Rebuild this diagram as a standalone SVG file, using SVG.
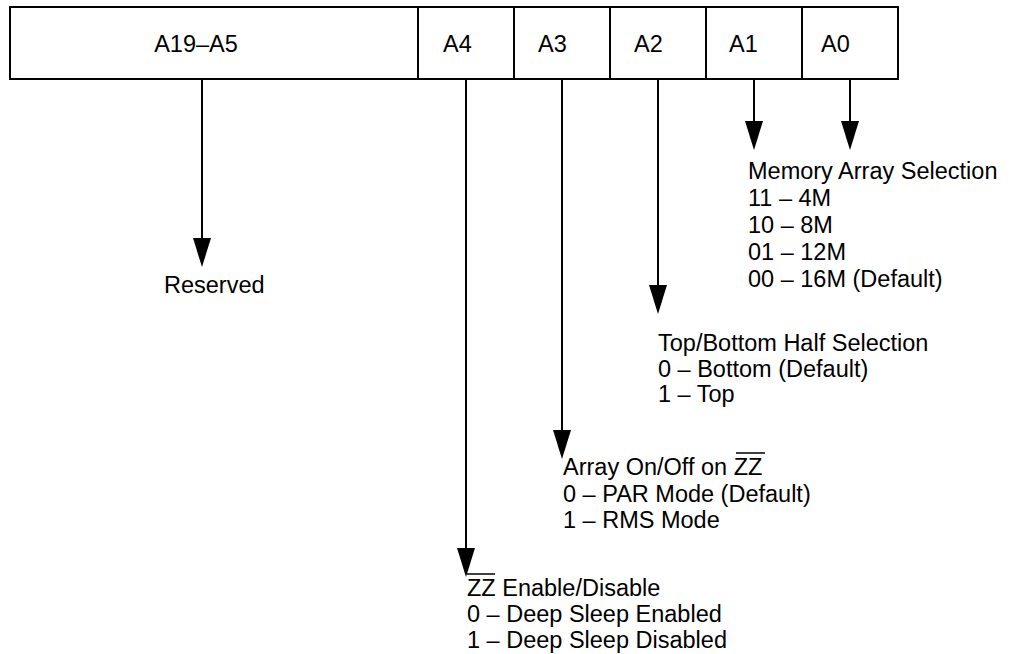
<svg xmlns="http://www.w3.org/2000/svg" width="1011" height="654" viewBox="0 0 1011 654">
<style>
text{font-family:"Liberation Sans",Arial,Helvetica,sans-serif;font-size:23.5px;fill:#000}
.box{fill:#fff;stroke:#000;stroke-width:2}
.conn{stroke:#000;stroke-width:2;fill:none}
.ov{stroke:#000;stroke-width:1.5}
</style>
<defs>
<marker id="ah" markerUnits="userSpaceOnUse" markerWidth="30" markerHeight="20" refX="19" refY="9" orient="auto" viewBox="0 0 30 18">
<path d="M0,0 L29,9 L0,18 z" fill="#000"/>
</marker>
</defs>
<rect width="1011" height="654" fill="#fff"/>
<g id="reg">
<g id="f-a19"><rect class="box" x="10" y="7" width="408" height="72"/><text x="196" y="52" text-anchor="middle">A19–A5</text></g>
<g id="f-a4"><rect class="box" x="418" y="7" width="96" height="72"/><text x="443" y="52">A4</text></g>
<g id="f-a3"><rect class="box" x="514" y="7" width="96" height="72"/><text x="538" y="52">A3</text></g>
<g id="f-a2"><rect class="box" x="610" y="7" width="96" height="72"/><text x="634" y="52">A2</text></g>
<g id="f-a1"><rect class="box" x="706" y="7" width="96" height="72"/><text x="729" y="52">A1</text></g>
<g id="f-a0"><rect class="box" x="802" y="7" width="96" height="72"/><text x="821" y="52">A0</text></g>
</g>
<g id="connectors">
<line class="conn" x1="202" y1="79" x2="202" y2="257" marker-end="url(#ah)"/>
<line class="conn" x1="466" y1="79" x2="466" y2="567" marker-end="url(#ah)"/>
<line class="conn" x1="562" y1="79" x2="562" y2="449" marker-end="url(#ah)"/>
<line class="conn" x1="658" y1="79" x2="658" y2="304" marker-end="url(#ah)"/>
<line class="conn" x1="754" y1="79" x2="754" y2="140" marker-end="url(#ah)"/>
<line class="conn" x1="850" y1="79" x2="850" y2="140" marker-end="url(#ah)"/>
</g>
<g id="n-reserved"><text x="164" y="293">Reserved</text></g>
<g id="n-mem">
<text x="748" y="179">Memory Array Selection</text>
<text x="748" y="206">11 – 4M</text>
<text x="748" y="233">10 – 8M</text>
<text x="748" y="260">01 – 12M</text>
<text x="748" y="287">00 – 16M (Default)</text>
</g>
<g id="n-top">
<text x="658" y="351">Top/Bottom Half Selection</text>
<text x="658" y="377">0 – Bottom (Default)</text>
<text x="658" y="402">1 – Top</text>
</g>
<g id="n-array">
<text x="563" y="475">Array On/Off on ZZ</text>
<line class="ov" x1="736" y1="453" x2="765" y2="453"/>
<text x="563" y="502">0 – PAR Mode (Default)</text>
<text x="563" y="528">1 – RMS Mode</text>
</g>
<g id="n-zz">
<text x="467" y="596">ZZ Enable/Disable</text>
<line class="ov" x1="467" y1="574" x2="495" y2="574"/>
<text x="467" y="622">0 – Deep Sleep Enabled</text>
<text x="467" y="648">1 – Deep Sleep Disabled</text>
</g>
</svg>
